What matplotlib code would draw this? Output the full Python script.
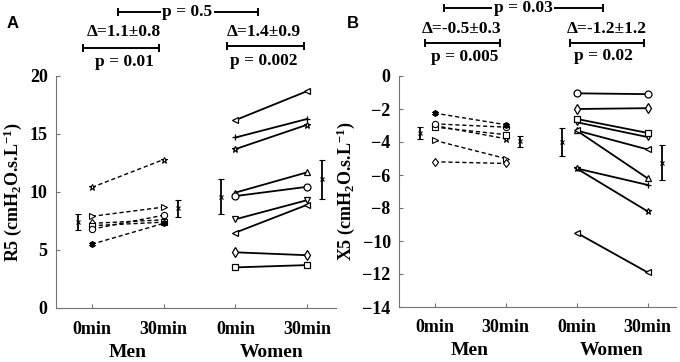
import matplotlib
matplotlib.use('Agg')
import matplotlib.pyplot as plt
import matplotlib.transforms as mtransforms

plt.rcParams['font.family'] = ['Liberation Serif', 'DejaVu Serif']
plt.rcParams['font.weight'] = 'bold'
plt.rcParams['mathtext.fontset'] = 'custom'
plt.rcParams['mathtext.rm'] = 'Liberation Serif:bold'
plt.rcParams['mathtext.it'] = 'Liberation Serif:bold'
plt.rcParams['mathtext.bf'] = 'Liberation Serif:bold'

# values
time_labels = ['0min', '30min', '0min', '30min']
groups = ['Men', 'Women']

r5_men_0 = [10.4, 7.9, 7.3, 7.1, 6.8, 5.5]
r5_men_30 = [12.8, 8.7, 7.6, 7.4, 8.0, 7.3]
r5_women_0 = [16.2, 14.7, 13.7, 9.95, 9.65, 7.65, 6.5, 4.8, 3.5]
r5_women_30 = [18.7, 16.3, 15.8, 11.7, 10.45, 9.3, 8.9, 4.55, 3.7]

x5_men_0 = [-3.0, -3.9, -5.2, -3.1, -2.9, -2.25]
x5_men_30 = [-3.8, -5.0, -5.3, -3.55, -3.1, -2.95]
x5_women_0 = [-9.5, -5.6, -5.6, -3.3, -1.05, -2.8, -3.3, -2.0, -2.6]
x5_women_30 = [-11.9, -6.6, -8.2, -6.2, -1.1, -3.7, -4.45, -1.95, -3.45]

r5_mean = [7.4, 8.6, 9.6, 11.1]
r5_sd = [0.68, 0.75, 1.5, 1.7]
x5_mean = [-3.47, -3.95, -4.0, -5.25]
x5_sd = [0.35, 0.33, 0.83, 1.08]

r5_delta = ['\u0394=1.1\u00b10.8', '\u0394=1.4\u00b10.9']
r5_p = ['p = 0.01', 'p = 0.002', 'p = 0.5']
x5_delta = ['\u0394=-0.5\u00b10.3', '\u0394=-1.2\u00b11.2']
x5_p = ['p = 0.005', 'p = 0.02', 'p = 0.03']

ast = (6, 2, 0)
men_markers = ['*', '>', 'd', 's', 'o', ast]
women_markers = ['<', '+', '*', '^', 'o', 'v', '<', 'd', 's']

fig = plt.figure(figsize=(6.8, 3.62), dpi=100)
axA = fig.add_axes([56 / 680, 54 / 362, 280 / 680, 232 / 362])
axB = fig.add_axes([399 / 680, 55 / 362, 277 / 680, 231 / 362])


def draw_panel(ax, m0, m30, w0, w30, mean, sd):
    for a, b, mk in zip(m0, m30, men_markers):
        filled = mk is ast
        ax.plot([1, 2], [a, b], color='black', lw=1.0, ls=(0, (3, 2)),
                marker=mk, ms=4.5, mfc='black' if filled else 'white',
                mec='black', mew=1.3 if filled else 0.8)
    for a, b, mk in zip(w0, w30, women_markers):
        ax.plot([3, 4], [a, b], color='black', lw=1.3, marker=mk, ms=5,
                mfc='white', mec='black', mew=0.9)
    ax.errorbar([0.8, 2.2, 2.8, 4.2], mean, yerr=sd, fmt='x', color='black',
                ms=3, mew=0.8, elinewidth=1.3, capsize=2.5, capthick=1.0)
    ax.set_xlim(0.5, 4.4)
    ax.set_xticks([1, 2, 3, 4])
    ax.set_xticklabels(time_labels)
    for s in ['top', 'right']:
        ax.spines[s].set_visible(False)
    for s in ['left', 'bottom']:
        ax.spines[s].set_color('0.45')
        ax.spines[s].set_linewidth(0.8)
    ax.tick_params(direction='in', length=3, color='0.45', labelsize=13, pad=6)
    ax.tick_params(axis='x', pad=9)
    trans = mtransforms.blended_transform_factory(ax.transData, ax.transAxes)
    for xc, g in zip([1.5, 3.5], groups):
        ax.text(xc, -0.19, g, transform=trans, ha='center', va='center',
                fontsize=14, fontweight='bold')
    return trans


def bracket(ax, trans, x0, x1, y):
    ax.plot([x0, x1], [y, y], transform=trans, color='black', lw=1.4,
            clip_on=False)
    ax.plot([x0, x1], [y, y], transform=trans, ls='none', marker='|',
            ms=6, mew=1.4, color='black', clip_on=False)


tA = draw_panel(axA, r5_men_0, r5_men_30, r5_women_0, r5_women_30, r5_mean, r5_sd)
axA.set_ylim(0, 20)
axA.set_yticks([0, 5, 10, 15, 20])
axA.set_ylabel('R5 (cmH$_2$O.s.L$^{-1}$)', fontsize=13, fontweight='bold', labelpad=4)

tB = draw_panel(axB, x5_men_0, x5_men_30, x5_women_0, x5_women_30, x5_mean, x5_sd)
axB.set_ylim(-14, 0)
axB.set_yticks([0, -2, -4, -6, -8, -10, -12, -14])
axB.set_ylabel('X5 (cmH$_2$O.s.L$^{-1}$)', fontsize=13, fontweight='bold', labelpad=4)

fs = 12.5
# panel A annotations
bracket(axA, tA, 1.36, 3.32, 1.276)
axA.text(2.33, 1.276, r5_p[2], transform=tA, ha='center', va='center', fontsize=fs,
         bbox=dict(fc='white', ec='none', pad=1))
bracket(axA, tA, 0.87, 1.94, 1.12)
bracket(axA, tA, 2.88, 3.95, 1.13)
axA.text(1.45, 1.19, r5_delta[0], transform=tA, ha='center', va='center', fontsize=fs)
axA.text(3.4, 1.19, r5_delta[1], transform=tA, ha='center', va='center', fontsize=fs)
axA.text(1.45, 1.062, r5_p[0], transform=tA, ha='center', va='center', fontsize=fs)
axA.text(3.4, 1.065, r5_p[1], transform=tA, ha='center', va='center', fontsize=fs)

# panel B annotations
bracket(axB, tB, 1.14, 3.37, 1.294)
axB.text(2.25, 1.294, x5_p[2], transform=tB, ha='center', va='center', fontsize=fs,
         bbox=dict(fc='white', ec='none', pad=1))
bracket(axB, tB, 0.87, 1.92, 1.143)
bracket(axB, tB, 2.91, 3.95, 1.143)
axB.text(1.38, 1.205, x5_delta[0], transform=tB, ha='center', va='center', fontsize=fs)
axB.text(3.43, 1.205, x5_delta[1], transform=tB, ha='center', va='center', fontsize=fs)
axB.text(1.42, 1.082, x5_p[0], transform=tB, ha='center', va='center', fontsize=fs)
axB.text(3.38, 1.085, x5_p[1], transform=tB, ha='center', va='center', fontsize=fs)

fig.text(13 / 680, 1 - 23 / 362, 'A', fontsize=12, fontweight='bold',
         family='Liberation Sans', ha='center', va='center')
fig.text(353 / 680, 1 - 23 / 362, 'B', fontsize=12, fontweight='bold',
         family='Liberation Sans', ha='center', va='center')

fig.savefig('out.png', dpi=100)
